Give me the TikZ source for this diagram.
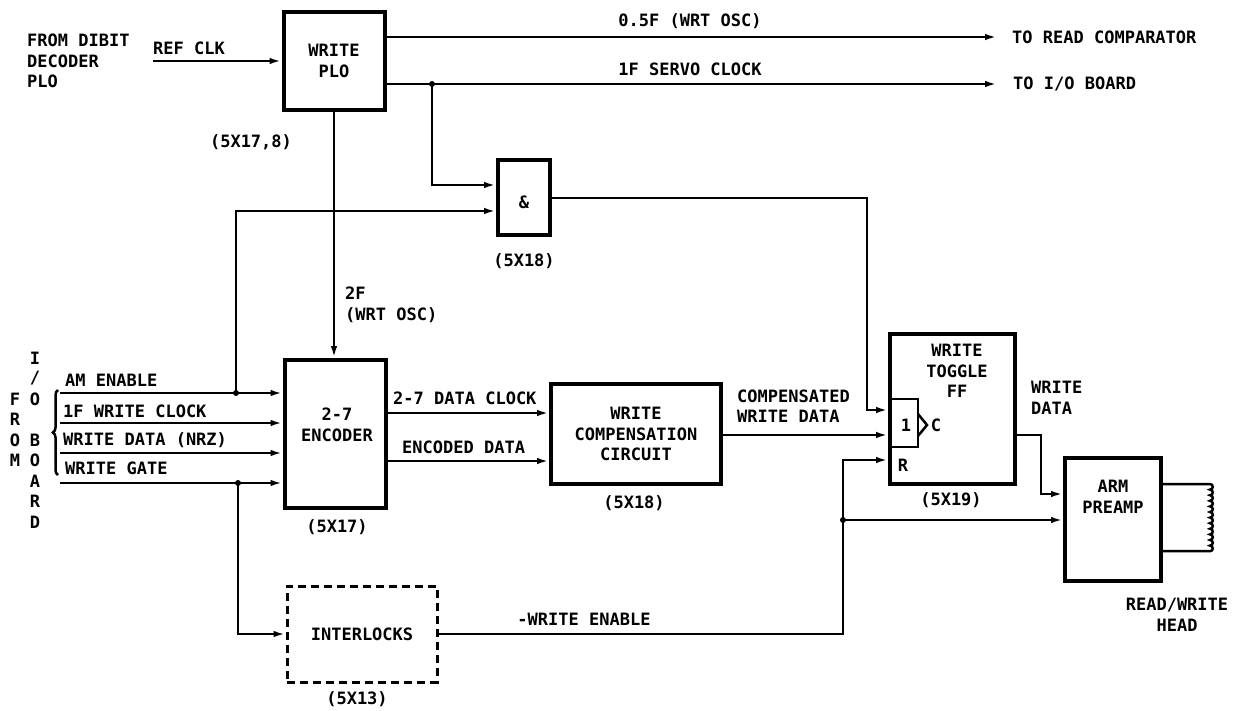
\documentclass[tikz,border=0pt]{standalone}
\usepackage{fontspec}
\newfontfamily\plotfont{DejaVu Sans Mono}
\usetikzlibrary{arrows.meta,decorations.pathreplacing}
\begin{document}
\begin{tikzpicture}[x=1pt,y=-1pt,
  lbl/.style={font=\plotfont\bfseries\fontsize{17}{20.5}\selectfont, inner sep=0pt, align=center},
  lbll/.style={lbl, align=left, anchor=west},
  box/.style={draw, line width=4pt, inner sep=0pt, lbl},
  dbox/.style={box, line width=3pt, dash pattern=on 8pt off 5pt},
  wire/.style={line width=2.5pt},
  arr/.style={wire, -{Latex[length=12pt,width=6.5pt]}},
  jdot/.style={circle, fill, inner sep=0pt, minimum size=5pt}]
\useasboundingbox (0,0) rectangle (1238,711);

% ---------- boxes ----------
\node[box, minimum width=101pt, minimum height=98pt] (plo) at (334,61) {WRITE\\PLO};
\node[box, minimum width=101pt, minimum height=148pt] (enc) at (335,434) {};
\node[box, minimum width=52pt, minimum height=75pt] (and) at (524,197.5) {};
\node[box, minimum width=170pt, minimum height=100pt] (wcc) at (636,434) {WRITE\\COMPENSATION\\CIRCUIT};
\node[box, minimum width=125pt, minimum height=150pt] (ff) at (952.5,409) {};
\node[box, minimum width=96pt, minimum height=123pt] (arm) at (1113,519.5) {};
\node[dbox, minimum width=150pt, minimum height=96pt] (intl) at (362,634) {INTERLOCKS};

% ---------- texts ----------
\node[lbll] (tfrom) at (27,61) {FROM DIBIT\\DECODER\\PLO};
\node[lbll] (tref) at (153,48) {REF CLK};
\node[lbl] (tplo) at (251,142) {(5X17,8)};
\node[lbl] (t05) at (690,21) {0.5F (WRT OSC)};
\node[lbl] (tservo) at (690,69) {1F SERVO CLOCK};
\node[lbll] (trc) at (1012,37) {TO READ COMPARATOR};
\node[lbll] (tio) at (1013,84) {TO I/O BOARD};
\node[lbl] (tamp) at (524,202) {\&};
\node[lbl] (tand) at (524,261) {(5X18)};
\node[lbll] (t2f) at (345,305) {2F\\(WRT OSC)};
\node[lbll] (tam) at (65,380) {AM ENABLE};
\node[lbll] (t1f) at (63,411) {1F WRITE CLOCK};
\node[lbll] (twd) at (63,440) {WRITE DATA (NRZ)};
\node[lbll] (twg) at (65,468) {WRITE GATE};
\node[lbl] (tenc) at (337,425) {2-7\\ENCODER};
\node[lbl] (tenc2) at (337,527) {(5X17)};
\node[lbll] (tdc) at (393,398) {2-7 DATA CLOCK};
\node[lbll] (ted) at (402,447) {ENCODED DATA};
\node[lbl] (twcc) at (634,503) {(5X18)};
\node[lbll] (tcwd) at (737,406) {COMPENSATED\\WRITE DATA};
\node[lbl] (tff) at (957,371) {WRITE\\TOGGLE\\FF};
\node[lbl] (tone) at (906,425) {1};
\node[lbl] (tc) at (936,425) {C};
\node[lbl] (tr) at (903,465) {R};
\node[lbl] (tff2) at (951,500) {(5X19)};
\node[lbll] (twdata) at (1031,398) {WRITE\\DATA};
\node[lbl] (tarm) at (1113,497) {ARM\\PREAMP};
\node[lbl] (thead) at (1177,615) {READ/WRITE\\HEAD};
\node[lbl] (twe) at (584,619) {-WRITE ENABLE};
\node[lbl] (tintl) at (357,699) {(5X13)};
% vertical "FROM I/O BOARD"
\foreach \ch/\yy [count=\k] in {F/399,R/419.5,O/440,M/460.5}
  \node[lbl] (vf\k) at (15,\yy) {\ch};
\foreach \ch/\yy [count=\k] in {I/358,{/}/378.5,O/399,B/440,O/460.5,A/481,R/501.5,D/522}
  \node[lbl] (vi\k) at (35,\yy) {\ch};

% ---------- coordinates ----------
\coordinate (refin) at (153,61);
\coordinate (rc) at (997,37);
\coordinate (io) at (997,84);
\coordinate (j1) at (432,84);
\coordinate (j2) at (236,393);
\coordinate (j3) at (238,483);
\coordinate (j4) at (843,520);
\coordinate (in1) at (60,393);
\coordinate (in2) at (60,423);
\coordinate (in3) at (60,453);
\coordinate (in4) at (60,483);

% ---------- connectors ----------
\draw[arr] (refin) -- (plo.west |- refin);
\draw[arr] (plo.east |- rc) -- (rc);
\draw[arr] (plo.east |- io) -- (io);
\draw[arr] (j1) -- (432,185) -- (and.west |- 0,185);
\draw[arr] (plo.south) -- (plo.south |- enc.north);
\draw[arr] (in1) -- (enc.west |- in1);
\draw[arr] (in2) -- (enc.west |- in2);
\draw[arr] (in3) -- (enc.west |- in3);
\draw[arr] (in4) -- (enc.west |- in4);
\draw[arr] (j2) -- (236,211) -- (and.west |- 0,211);
\draw[arr] (j3) -- (j3 |- intl.west) -- (intl.west);
\draw[arr] (enc.east |- 0,413) -- (wcc.west |- 0,413);
\draw[arr] (enc.east |- 0,461) -- (wcc.west |- 0,461);
\draw[arr] (wcc.east |- 0,435) -- (ff.west |- 0,435);
\draw[arr] (and.east |- 0,198) -- (867,198) -- (867,410) -- (ff.west |- 0,410);
\draw[arr] (intl.east) -- (843,634) -- (843,460) -- (ff.west |- 0,460);
\draw[arr] (j4) -- (arm.west |- j4);
\draw[arr] (ff.east |- 0,435) -- (1041,435) -- (1041,494) -- (arm.west |- 0,494);
\foreach \j in {j1,j2,j3,j4} \fill (\j) circle (3pt);

% flip-flop inner symbol
\draw[wire] (ff.west |- 0,399) -- (918,399) -- (918,447) -- (ff.west |- 0,447);
\draw[wire] (918,414) -- (927,425) -- (918,436);

% brace
\draw[wire, decorate, decoration={brace, amplitude=5pt}] (58,475) -- (58,390);

% read/write head
\draw[wire] (arm.east |- 0,484) -- (1210,484)
  \foreach \i in {1,...,12} { arc[start angle=-90, end angle=90, radius=2.8] }
  -- (arm.east |- 0,551.2);
\end{tikzpicture}
\end{document}
